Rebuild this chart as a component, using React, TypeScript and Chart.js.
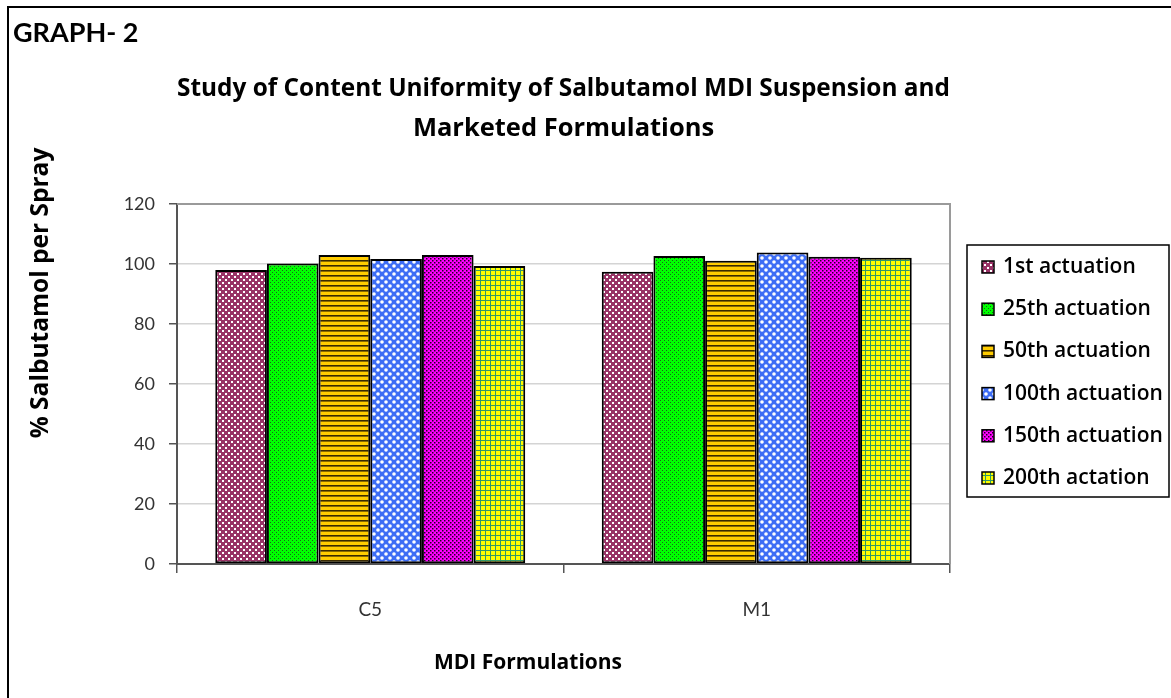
import React, { useEffect, useRef } from 'react';
import { Chart, registerables } from 'chart.js';

Chart.register(...registerables);

// ---- data ----
const categories = ['C5', 'M1'];
const seriesLabels = [
  '1st actuation',
  '25th actuation',
  '50th actuation',
  '100th actuation',
  '150th actuation',
  '200th actation',
];
const act1 = [98.0, 97.4];
const act25 = [100.2, 102.7];
const act50 = [103.0, 101.1];
const act100 = [101.7, 103.8];
const act150 = [103.0, 102.4];
const act200 = [99.3, 102.1];
const yTicks = [0, 20, 40, 60, 80, 100, 120];

const chartTitle = 'GRAPH- 2';
const chartSubtitle = [
  'Study of Content Uniformity of Salbutamol MDI Suspension and',
  'Marketed Formulations',
];
const yTitle = '% Salbutamol per Spray';
const xTitle = 'MDI Formulations';

const FONT = 'Lato';
const BOLD_FONT = '"Open Sans"';

function makePattern(kind: string): CanvasPattern | string {
  const c = document.createElement('canvas');
  const g = c.getContext('2d');
  if (!g) return '#888';
  if (kind === 'dots-white') {
    c.width = 6; c.height = 6;
    g.fillStyle = '#993366'; g.fillRect(0, 0, 6, 6);
    g.fillStyle = '#ffffff';
    g.fillRect(0, 0, 2, 2); g.fillRect(3, 3, 2, 2);
  } else if (kind === 'green-dots') {
    c.width = 4; c.height = 4;
    g.fillStyle = '#00ff00'; g.fillRect(0, 0, 4, 4);
    g.fillStyle = '#1a661a';
    g.fillRect(0, 0, 1, 1); g.fillRect(2, 2, 1, 1);
  } else if (kind === 'hlines') {
    c.width = 5; c.height = 5;
    g.fillStyle = '#ffcc00'; g.fillRect(0, 0, 5, 5);
    g.fillStyle = '#3a2a00'; g.fillRect(0, 0, 5, 1.6);
  } else if (kind === 'bubbles') {
    c.width = 8; c.height = 8;
    g.fillStyle = '#3d6df5'; g.fillRect(0, 0, 8, 8);
    g.fillStyle = '#ffffff';
    g.beginPath(); g.arc(2, 2, 1.8, 0, Math.PI * 2); g.fill();
    g.beginPath(); g.arc(6, 6, 1.8, 0, Math.PI * 2); g.fill();
  } else if (kind === 'magenta-dots') {
    c.width = 4; c.height = 4;
    g.fillStyle = '#ff00ff'; g.fillRect(0, 0, 4, 4);
    g.fillStyle = '#220022';
    g.fillRect(0, 0, 1.5, 1.5); g.fillRect(2, 2, 1.5, 1.5);
  } else if (kind === 'grid') {
    c.width = 5; c.height = 5;
    g.fillStyle = '#ffff00'; g.fillRect(0, 0, 5, 5);
    g.fillStyle = '#339966';
    g.fillRect(0, 0, 5, 1); g.fillRect(0, 0, 1, 5);
  }
  return g.createPattern(c, 'repeat') || '#888';
}

const decorPlugin = {
  id: 'decor',
  beforeDraw(chart: any) {
    const ctx = chart.ctx;
    ctx.save();
    ctx.fillStyle = '#ffffff';
    ctx.fillRect(0, 0, chart.width, chart.height);
    ctx.restore();
  },
  afterDraw(chart: any) {
    const ctx = chart.ctx as CanvasRenderingContext2D;
    const a = chart.chartArea;
    ctx.save();
    // outer frame
    ctx.fillStyle = '#000';
    ctx.fillRect(7, 6, 2, chart.height);
    ctx.fillRect(7, 6, chart.width, 2);
    // plot area border (top / right)
    ctx.strokeStyle = '#9a9a9a';
    ctx.lineWidth = 2;
    ctx.beginPath();
    ctx.moveTo(a.left, a.top);
    ctx.lineTo(a.right, a.top);
    ctx.lineTo(a.right, a.bottom);
    ctx.stroke();
    // y title
    ctx.save();
    ctx.translate(41, 293);
    ctx.rotate(-Math.PI / 2);
    ctx.fillStyle = '#000';
    ctx.font = `bold 24.5px ${BOLD_FONT}`;
    ctx.textAlign = 'center';
    ctx.textBaseline = 'middle';
    ctx.fillText(yTitle, 0, 0);
    ctx.restore();
    // x title
    ctx.fillStyle = '#000';
    ctx.font = `bold 21px ${BOLD_FONT}`;
    ctx.textAlign = 'center';
    ctx.textBaseline = 'middle';
    ctx.fillText(xTitle, 528, 663);
    // legend
    const lx = 967, ly = 245, lw = 202, lh = 252;
    ctx.strokeStyle = '#000';
    ctx.lineWidth = 1.5;
    ctx.strokeRect(lx, ly, lw, lh);
    chart.data.datasets.forEach((ds: any, i: number) => {
      const cy = 267 + i * 42.2;
      ctx.fillStyle = ds.backgroundColor;
      ctx.fillRect(982, cy - 6, 12, 12);
      ctx.strokeStyle = '#000';
      ctx.lineWidth = 1.5;
      ctx.strokeRect(982, cy - 6, 12, 12);
      ctx.fillStyle = '#000';
      ctx.font = `600 21px ${BOLD_FONT}`;
      ctx.textAlign = 'left';
      ctx.textBaseline = 'middle';
      ctx.fillText(ds.label, 1003, cy);
    });
    ctx.restore();
  },
};

export default function App() {
  const ref = useRef<HTMLCanvasElement | null>(null);

  useEffect(() => {
    if (!ref.current) return;
    const patterns = [
      makePattern('dots-white'),
      makePattern('green-dots'),
      makePattern('hlines'),
      makePattern('bubbles'),
      makePattern('magenta-dots'),
      makePattern('grid'),
    ];
    const series = [act1, act25, act50, act100, act150, act200];
    const chart = new Chart(ref.current, {
      type: 'bar',
      data: {
        labels: categories,
        datasets: series.map((d, i) => ({
          label: seriesLabels[i],
          data: d,
          backgroundColor: patterns[i] as any,
          borderColor: '#000',
          borderWidth: 2,
          borderSkipped: false,
          categoryPercentage: 0.802,
          barPercentage: 1,
        })),
      },
      options: {
        animation: false,
        responsive: false,
        devicePixelRatio: 1,
        layout: { padding: { left: 13, right: 221, top: 0, bottom: 0 } },
        plugins: {
          legend: { display: false },
          tooltip: { enabled: false },
          title: {
            display: true,
            text: chartTitle,
            align: 'start',
            color: '#000',
            font: { family: FONT, size: 27, weight: 'bold', lineHeight: 1.2 },
            padding: { top: 17, bottom: 0 },
          },
          subtitle: {
            display: true,
            text: chartSubtitle,
            fullSize: false,
            color: '#000',
            font: { family: BOLD_FONT, size: 25.5, weight: 'bold', lineHeight: 40 / 25.5 },
            padding: { top: 19, bottom: 55.6 },
          },
        },
        scales: {
          x: {
            grid: {
              offset: true,
              drawOnChartArea: false,
              drawTicks: true,
              tickLength: 9,
              color: '#555',
              lineWidth: 1.5,
            },
            border: { display: true, color: '#555', width: 2 },
            ticks: { font: { family: FONT, size: 19 }, color: '#333', padding: 25 },
            afterFit: (s: any) => { s.height = 134; },
          },
          y: {
            min: 0,
            max: 120,
            afterBuildTicks: (s: any) => { s.ticks = yTicks.map((v) => ({ value: v })); },
            ticks: { font: { family: FONT, size: 18 }, color: '#333', padding: 14 },
            grid: {
              color: (c: any) => (c.tick && c.tick.value === 0 ? '#555' : '#d4d4d4'),
              lineWidth: 1.5,
              tickLength: 8,
              tickColor: '#555',
            },
            border: { display: true, color: '#555', width: 2 },
            afterFit: (s: any) => { s.width = 164; },
          },
        },
      },
      plugins: [decorPlugin],
    });
    return () => chart.destroy();
  }, []);

  return (
    <div style={{ position: 'absolute', left: 0, top: 0, width: 1171, height: 698 }}>
      <canvas ref={ref} width={1171} height={698} style={{ width: 1171, height: 698, display: 'block' }} />
    </div>
  );
}
